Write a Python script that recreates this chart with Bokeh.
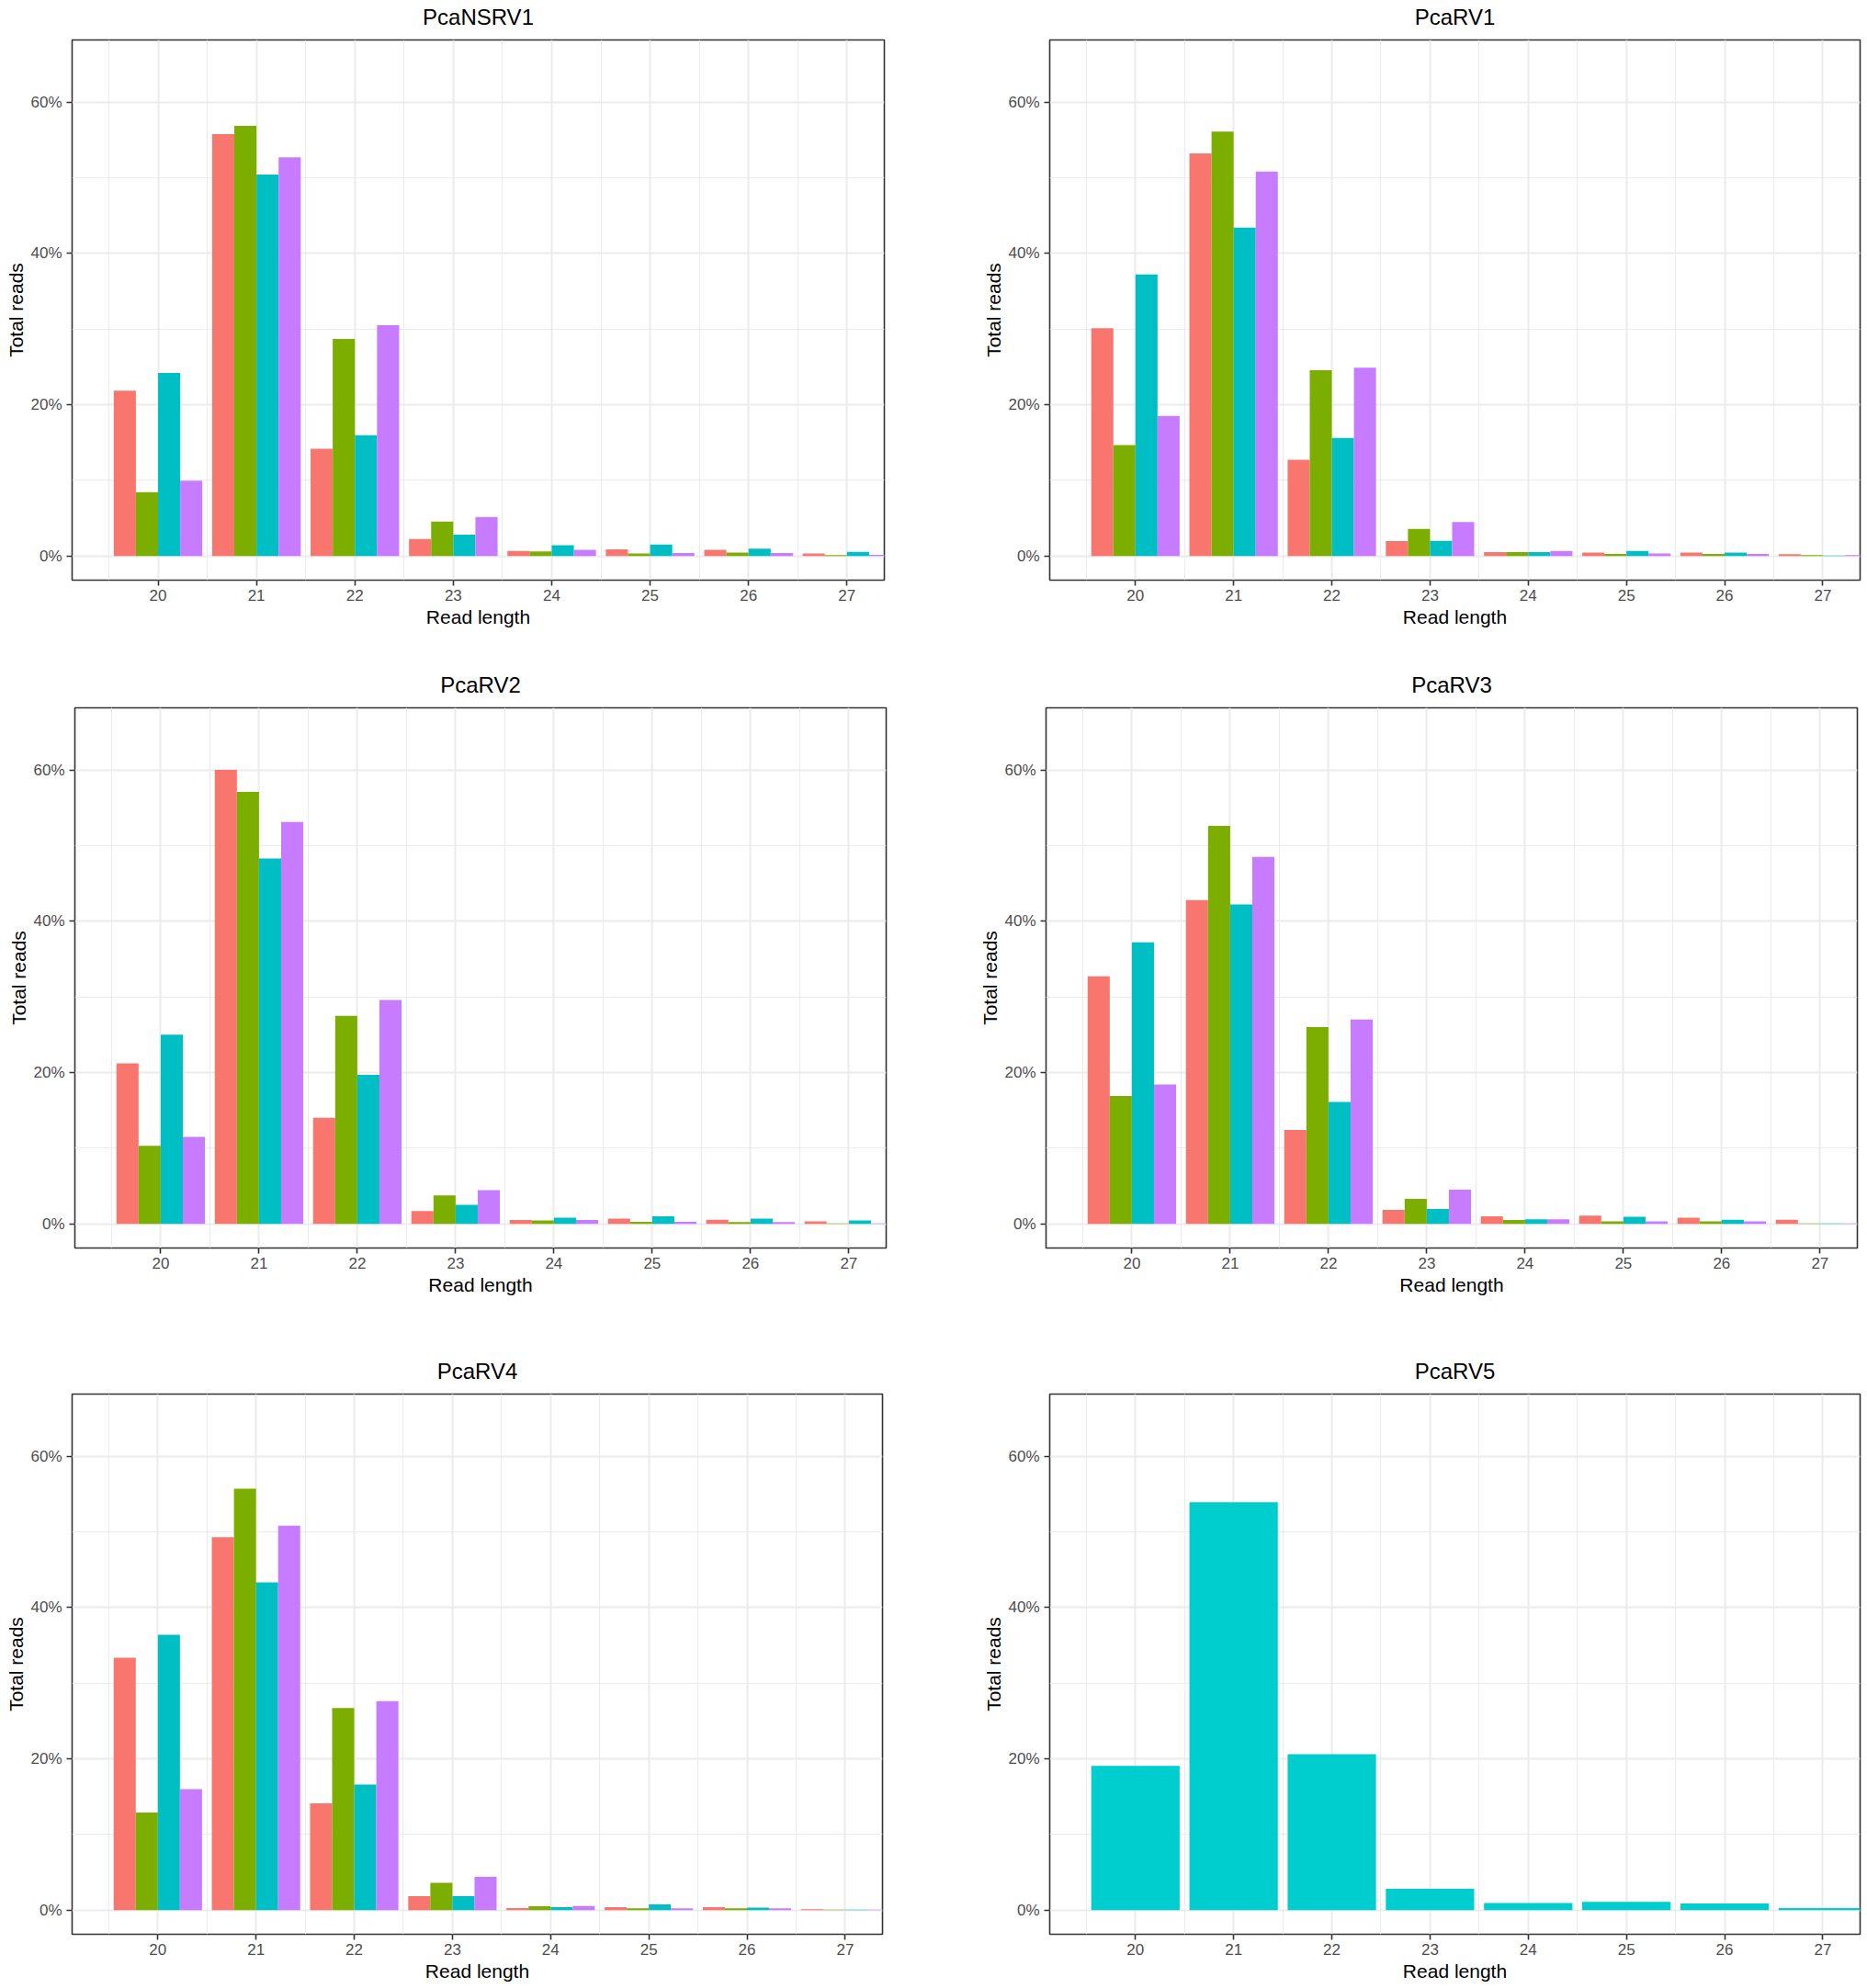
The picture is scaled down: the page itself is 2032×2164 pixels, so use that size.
from bokeh.plotting import figure
from bokeh.layouts import column, row
from bokeh.models import Range1d, FixedTicker
from bokeh.embed import file_html
from bokeh.resources import INLINE

# ---------------- data ----------------
read_lengths = [20, 21, 22, 23, 24, 25, 26, 27]
y_ticks = [0, 20, 40, 60]
y_tick_labels = ["0%", "20%", "40%", "60%"]

titles = ["PcaNSRV1", "PcaRV1", "PcaRV2", "PcaRV3", "PcaRV4", "PcaRV5"]

# total reads (%) per read length, four libraries per virus
pcansrv1 = [
    [21.85, 55.76, 14.17, 2.22, 0.65, 0.87, 0.80, 0.32],
    [8.44, 56.84, 28.66, 4.54, 0.60, 0.32, 0.43, 0.10],
    [24.17, 50.41, 15.95, 2.81, 1.40, 1.50, 0.97, 0.54],
    [9.95, 52.68, 30.50, 5.14, 0.80, 0.38, 0.38, 0.15],
]
pcarv1 = [
    [30.10, 53.20, 12.70, 1.95, 0.49, 0.43, 0.43, 0.22],
    [14.66, 56.10, 24.55, 3.57, 0.49, 0.27, 0.27, 0.10],
    [37.20, 43.40, 15.58, 2.00, 0.49, 0.65, 0.43, 0.05],
    [18.50, 50.80, 24.88, 4.49, 0.65, 0.32, 0.27, 0.10],
]
pcarv2 = [
    [21.20, 60.00, 14.00, 1.68, 0.49, 0.70, 0.54, 0.33],
    [10.30, 57.10, 27.50, 3.74, 0.43, 0.27, 0.22, 0.05],
    [25.00, 48.30, 19.70, 2.50, 0.81, 0.98, 0.70, 0.43],
    [11.50, 53.10, 29.60, 4.44, 0.49, 0.27, 0.22, 0.05],
]
pcarv3 = [
    [32.70, 42.80, 12.40, 1.84, 0.98, 1.08, 0.81, 0.54],
    [16.90, 52.60, 26.00, 3.30, 0.49, 0.33, 0.33, 0.05],
    [37.20, 42.20, 16.10, 1.95, 0.60, 0.92, 0.54, 0.05],
    [18.40, 48.50, 27.00, 4.50, 0.60, 0.33, 0.33, 0.05],
]
pcarv4 = [
    [33.35, 49.30, 14.10, 1.84, 0.27, 0.38, 0.38, 0.10],
    [12.90, 55.70, 26.70, 3.60, 0.49, 0.22, 0.22, 0.05],
    [36.40, 43.30, 16.60, 1.84, 0.38, 0.76, 0.33, 0.05],
    [16.00, 50.80, 27.60, 4.40, 0.54, 0.22, 0.22, 0.05],
]
pcarv5 = [
    [19.06, 53.90, 20.60, 2.80, 0.92, 1.08, 0.87, 0.27],
]

# ---------------- style ----------------
FONT = "Liberation Sans"
four_colors = ["#F8766D", "#7CAE00", "#00BFC4", "#C77CFF"]
single_color = ["#00CDCD"]
FH = 588
BT = 53


def make_panel(title, series, colors, bl, br, bb, fw, ylab_standoff=1):
    p = figure(width=bl + fw + br, height=BT + FH + bb,
               x_range=Range1d(19.127, 27.38), y_range=Range1d(-3.2, 68.2),
               output_backend="svg", toolbar_location=None, tools="",
               min_border_left=bl, min_border_right=br,
               min_border_top=BT, min_border_bottom=bb)
    n = len(series)
    group_w = 0.9
    bw = group_w / n
    for i, vals in enumerate(series):
        off = -group_w / 2 + bw * (i + 0.5)
        xs = [l + off for l in read_lengths]
        p.vbar(x=xs, top=vals, bottom=0, width=bw,
               fill_color=colors[i], line_color=None)

    p.title.text = title
    p.title.align = "center"
    p.title.text_font = FONT
    p.title.text_font_size = "24px"
    p.title.text_font_style = "normal"
    p.title.text_color = "black"
    p.title.standoff = 23

    p.xaxis.ticker = FixedTicker(ticks=read_lengths,
                                 minor_ticks=[l - 0.5 for l in read_lengths])
    p.yaxis.ticker = FixedTicker(ticks=y_ticks,
                                 minor_ticks=[t + 10 for t in y_ticks])
    p.yaxis.major_label_overrides = dict(zip(y_ticks, y_tick_labels))
    p.xaxis.axis_label = "Read length"
    p.yaxis.axis_label = "Total reads"

    for ax in (p.xaxis, p.yaxis):
        ax.axis_line_color = None
        ax.major_tick_line_color = "#333333"
        ax.major_tick_line_width = 1.6
        ax.major_tick_out = 6
        ax.major_tick_in = 0
        ax.minor_tick_line_color = None
        ax.major_label_text_font = FONT
        ax.major_label_text_font_size = "17px"
        ax.major_label_text_color = "#4D4D4D"
        ax.axis_label_text_font = FONT
        ax.axis_label_text_font_size = "21px"
        ax.axis_label_text_font_style = "normal"
        ax.axis_label_text_color = "black"
    p.xaxis.major_label_standoff = 4
    p.xaxis.axis_label_standoff = 3
    p.yaxis.major_label_standoff = 5
    p.yaxis.axis_label_standoff = ylab_standoff

    for g in (p.xgrid, p.ygrid):
        g.grid_line_color = "#EBEBEB"
        g.grid_line_width = 2
        g.minor_grid_line_color = "#EBEBEB"
        g.minor_grid_line_width = 1

    p.outline_line_color = "#333333"
    p.outline_line_width = 1.6
    p.background_fill_color = "white"
    p.border_fill_color = "white"
    return p


f1 = make_panel(titles[0], pcansrv1, four_colors, 78, 102, 86, 884)
f2 = make_panel(titles[1], pcarv1, four_colors, 78, 6, 86, 882)
f3 = make_panel(titles[2], pcarv2, four_colors, 81, 96, 106, 883)
f4 = make_panel(titles[3], pcarv3, four_colors, 78, 8, 106, 883)
f5 = make_panel(titles[4], pcarv4, four_colors, 78, 104, 55, 882)
f6 = make_panel(titles[5], pcarv5, single_color, 78, 6, 55, 882)

layout = column(row(f1, f2), row(f3, f4), row(f5, f6), margin=(-10, 0, 0, 0))
open("out.html", "w").write(file_html(layout, INLINE))
